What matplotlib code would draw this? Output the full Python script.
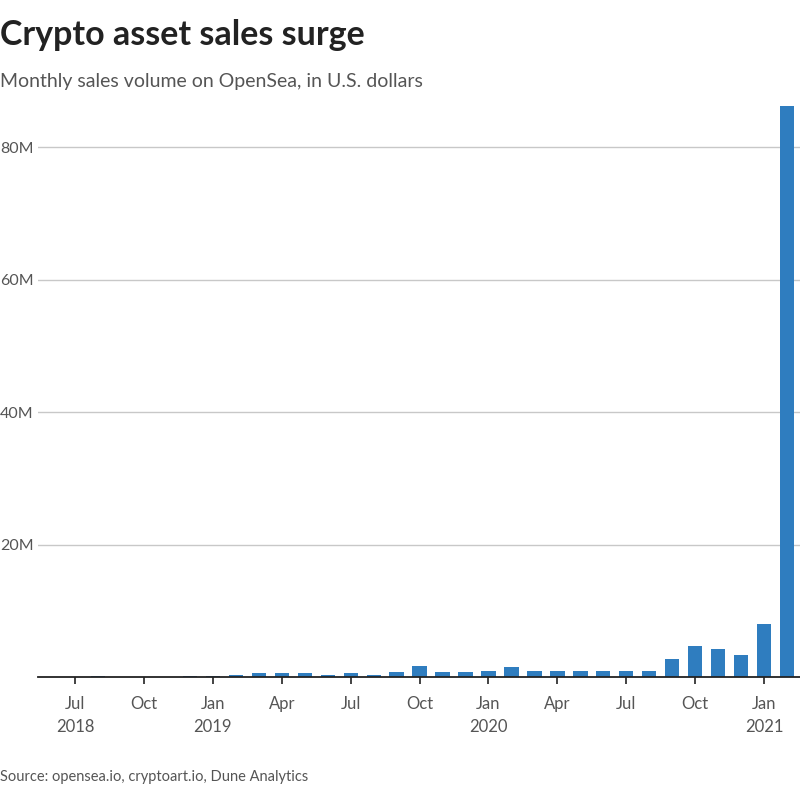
import matplotlib
matplotlib.use("Agg")
import matplotlib.pyplot as plt

months = ["Jul 2018", "Aug 2018", "Sep 2018", "Oct 2018", "Nov 2018", "Dec 2018",
          "Jan 2019", "Feb 2019", "Mar 2019", "Apr 2019", "May 2019", "Jun 2019",
          "Jul 2019", "Aug 2019", "Sep 2019", "Oct 2019", "Nov 2019", "Dec 2019",
          "Jan 2020", "Feb 2020", "Mar 2020", "Apr 2020", "May 2020", "Jun 2020",
          "Jul 2020", "Aug 2020", "Sep 2020", "Oct 2020", "Nov 2020", "Dec 2020",
          "Jan 2021", "Feb 2021"]
sales_musd = [0.02, 0.12, 0.03, 0.03, 0.03, 0.10,
              0.12, 0.35, 0.60, 0.60, 0.60, 0.35,
              0.60, 0.35, 0.75, 1.66, 0.70, 0.70,
              0.90, 1.50, 0.90, 0.90, 0.90, 0.90,
              0.90, 0.90, 2.70, 4.70, 4.30, 3.30,
              7.95, 86.2]
xtick_pos = [0, 3, 6, 9, 12, 15, 18, 21, 24, 27, 30]
xtick_labels = ["Jul\n2018", "Oct", "Jan\n2019", "Apr", "Jul", "Oct",
                "Jan\n2020", "Apr", "Jul", "Oct", "Jan\n2021"]
ytick_vals = [20, 40, 60, 80]
ytick_labels = ["20M", "40M", "60M", "80M"]

plt.rcParams['font.family'] = ['Lato', 'DejaVu Sans']

fig = plt.figure(figsize=(8, 8), dpi=100)
W = H = 800
left_px, right_px, top_px, base_px = 38, 800, 100, 677
ax = fig.add_axes([left_px / W, 1 - base_px / H, (right_px - left_px) / W, (base_px - top_px) / H])

x = list(range(len(months)))
ax.bar(x, sales_musd, width=0.62, color="#2f7dbf", zorder=3)

ax.set_xlim(-1.61, 31.56)
ax.set_ylim(0, 87.1)

for s in ["top", "right", "left"]:
    ax.spines[s].set_visible(False)
ax.spines["bottom"].set_color("#222222")
ax.spines["bottom"].set_linewidth(1.3)
ax.spines["bottom"].set_zorder(4)

ax.set_yticks(ytick_vals)
ax.set_yticklabels(ytick_labels, ha="left", color="#555555", fontsize=11.5)
ax.tick_params(axis="y", length=0, pad=left_px * 0.72)
ax.yaxis.grid(True, color="#c8c8c8", linewidth=1, zorder=0)

ax.set_xticks(xtick_pos)
ax.set_xticklabels(xtick_labels, color="#555555", fontsize=12, linespacing=1.5)
ax.tick_params(axis="x", length=5, width=1.2, color="#222222", pad=9)

fig.text(0.0, 1 - 35 / H, "Crypto asset sales surge", fontsize=24.5, fontweight="bold",
         color="#222222", va="center", ha="left")
fig.text(0.0, 1 - 81 / H, "Monthly sales volume on OpenSea, in U.S. dollars", fontsize=14,
         color="#555555", va="center", ha="left")
fig.text(0.0, 1 - 777 / H, "Source: opensea.io, cryptoart.io, Dune Analytics", fontsize=10.5,
         color="#555555", va="center", ha="left")

fig.savefig("out.png", dpi=100)
